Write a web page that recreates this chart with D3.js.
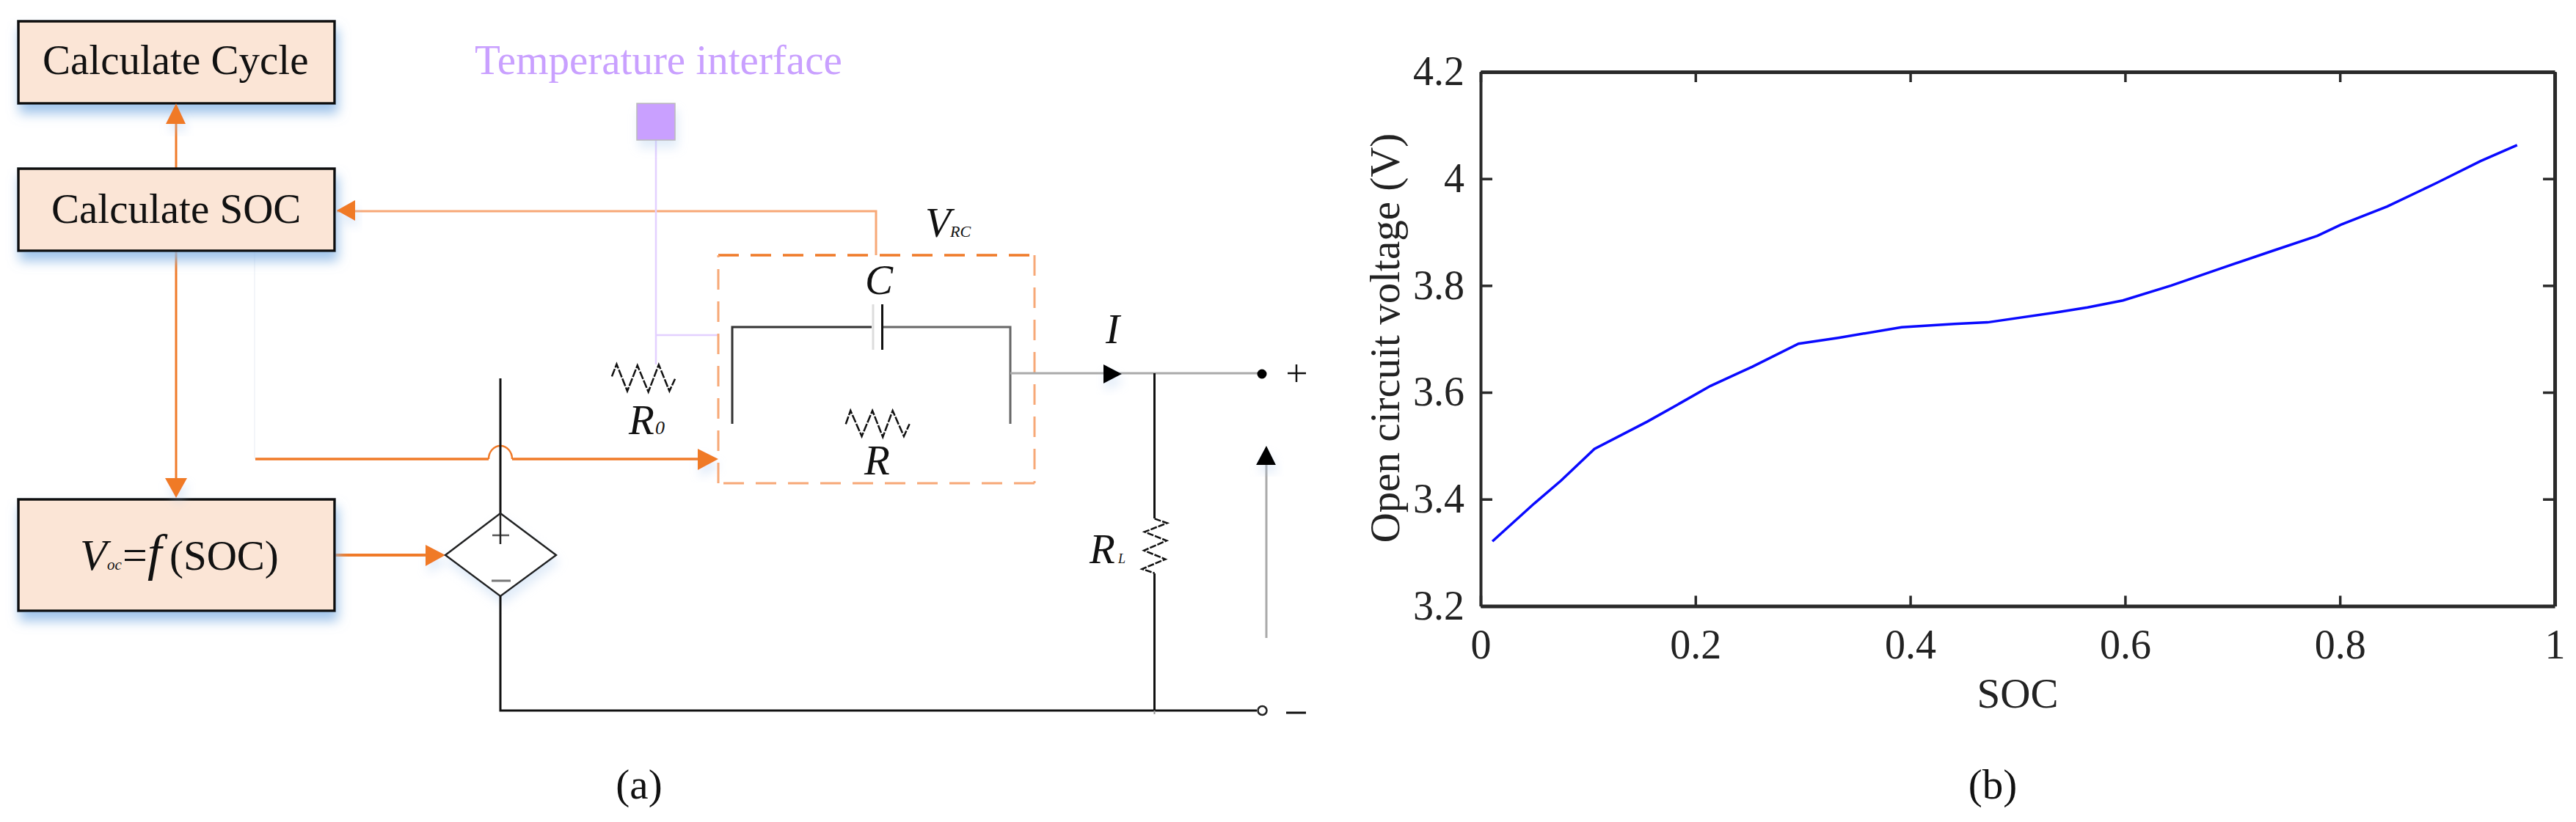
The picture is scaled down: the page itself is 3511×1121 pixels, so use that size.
<!DOCTYPE html>
<html>
<head>
<meta charset="utf-8">
<script src="https://cdn.jsdelivr.net/npm/d3@7/dist/d3.min.js"></script>
<style>
  html, body { margin: 0; padding: 0; background: #fff; }
  svg { display: block; }
  text { font-family: "Liberation Serif", serif; fill: #111; }
</style>
</head>
<body>
<div id="chart"></div>
<script>
// panel (b) curve
const socValues = [0.011, 0.050, 0.075, 0.106, 0.155, 0.186, 0.214, 0.253, 0.296, 0.333, 0.392, 0.441, 0.472, 0.534, 0.565, 0.598, 0.643, 0.689, 0.736, 0.779, 0.801, 0.844, 0.890, 0.931, 0.965];
const ocvValues = [3.321, 3.392, 3.435, 3.494, 3.545, 3.580, 3.612, 3.648, 3.691, 3.702, 3.722, 3.728, 3.731, 3.749, 3.759, 3.772, 3.800, 3.832, 3.864, 3.893, 3.914, 3.948, 3.992, 4.033, 4.063];
const xTicks = [0, 0.2, 0.4, 0.6, 0.8, 1];
const xTickLabels = ['0', '0.2', '0.4', '0.6', '0.8', '1'];
const yTicks = [3.2, 3.4, 3.6, 3.8, 4, 4.2];
const yTickLabels = ['3.2', '3.4', '3.6', '3.8', '4', '4.2'];
const boxLabels = ['Calculate Cycle', 'Calculate SOC'];

const width = 3511, height = 1121;
const orange = '#f07a28', paleOrange = '#f7a877', purple = '#c9a0ff', palePurple = '#e3d0ff';
const svg = d3.select('#chart').append('svg').attr('width', width).attr('height', height);

const defs = svg.append('defs');
defs.append('filter').attr('id', 'boxShadow').attr('x', '-10%').attr('y', '-10%').attr('width', '125%').attr('height', '140%')
  .append('feDropShadow').attr('dx', 3).attr('dy', 12).attr('stdDeviation', 8).attr('flood-color', '#8fb9e6').attr('flood-opacity', 0.85);
defs.append('filter').attr('id', 'softShadow').attr('x', '-40%').attr('y', '-40%').attr('width', '180%').attr('height', '200%')
  .append('feDropShadow').attr('dx', 3).attr('dy', 10).attr('stdDeviation', 7).attr('flood-color', '#a9c8ec').attr('flood-opacity', 0.35);

const left = svg.append('g');

function line(pts, color, w, dash) {
  const p = left.append('path').attr('d', d3.line()(pts)).attr('fill', 'none').attr('stroke', color).attr('stroke-width', w);
  if (dash) p.attr('stroke-dasharray', dash);
  return p;
}
function head(pts, color) {
  left.append('path').attr('d', d3.line()(pts) + 'Z').attr('fill', color).attr('filter', 'url(#softShadow)');
}
function label(x, y, str, size, italic, color) {
  return left.append('text').attr('x', x).attr('y', y).attr('font-size', size)
    .attr('font-style', italic ? 'italic' : 'normal').style('fill', color || '#111').text(str);
}
function box(y0, y1) {
  left.append('rect').attr('x', 25).attr('y', y0).attr('width', 431).attr('height', y1 - y0)
    .attr('fill', '#fbe5d6').attr('stroke', '#111').attr('stroke-width', 3.5).attr('filter', 'url(#boxShadow)');
}

// feedback wires under the boxes
line([[347, 342], [347, 626]], '#f3f5f9', 2);
line([[240, 230], [240, 160]], orange, 3);
line([[240, 342], [240, 660]], orange, 3);
line([[459, 288], [1194, 288], [1194, 348]], paleOrange, 3);
line([[348, 626], [666, 626]], orange, 3.5);
left.append('path').attr('d', 'M666,626 A16,18 0 0 1 698,626').attr('fill', 'none').attr('stroke', orange).attr('stroke-width', 2.5);
line([[698, 626], [955, 626]], orange, 3.5);
line([[456, 757], [590, 757]], orange, 4);

box(29, 141);
box(230, 342);
box(681, 833);
label(58, 101, boxLabels[0], 57);
label(70, 304, boxLabels[1], 57);
label(109, 777, 'V', 60, true);
label(146, 777, 'oc', 21, true);
label(167, 777, '=', 60);
label(201, 777, 'f', 70, true);
label(231, 777, '(SOC)', 57);

head([[240, 141], [226, 169], [253, 169]], orange);
head([[459, 287], [484, 273], [484, 301]], orange);
head([[240, 679], [225, 652], [255, 652]], orange);
head([[607, 757], [580, 743], [580, 772]], orange);
head([[979, 626], [951, 612], [951, 641]], orange);

// temperature interface
label(647, 101, 'Temperature interface', 57, false, purple);
line([[894, 191], [894, 497]], palePurple, 2.5);
line([[894, 457], [979, 457]], palePurple, 2.5);
left.append('rect').attr('x', 868).attr('y', 141).attr('width', 52).attr('height', 50).attr('fill', purple)
  .attr('stroke', '#bbb').attr('stroke-width', 1.5).attr('filter', 'url(#softShadow)');

// dashed RC block
line([[979, 348], [1410, 348]], orange, 3.5, '28 16');
line([[1410, 348], [1410, 659]], paleOrange, 3, '28 16');
line([[1410, 659], [979, 659]], paleOrange, 3, '28 16');
line([[979, 659], [979, 348]], paleOrange, 3, '28 16');
label(1261, 323, 'V', 57, true);
label(1295, 323, 'RC', 22, true);

// RC branch
line([[998, 578], [998, 446], [1188, 446]], '#333', 3);
line([[1203, 446], [1377, 446], [1377, 578]], '#666', 3);
line([[1190, 415], [1190, 477]], '#ddd', 3);
line([[1202.5, 415], [1202.5, 477]], '#111', 3);
label(1179, 401, 'C', 57, true);

const zig = [[1183, 835], [1200, 780], [1240, 885], [1278, 780], [1315, 888], [1350, 780], [1390, 885], [1410, 835]];
line(zig.map(d => [700 + d[0] / 2.613, 300 + d[1] / 3]), '#111', 2.5, '11 2');
label(1178, 647, 'R', 57, true);
const zig0 = [[350, 640], [367, 590], [405, 700], [441, 595], [480, 703], [517, 592], [555, 700], [575, 650]];
line(zig0.map(d => [700 + d[0] / 2.613, 300 + d[1] / 3]), '#111', 2.5, '11 2');
label(857, 592, 'R', 57, true);
label(893, 592, '0', 26, true);

// output side
line([[1377, 509], [1715, 509]], '#aaa', 3);
head([[1529, 510], [1504, 497], [1504, 523]], '#000');
label(1507, 468, 'I', 57, true);
left.append('circle').attr('cx', 1720).attr('cy', 510).attr('r', 6.5).attr('fill', '#000');
line([[1767, 497], [1767, 521]], '#111', 2.5);
line([[1755, 509], [1780, 509]], '#111', 2.5);
line([[1726, 870], [1726, 634]], '#aaa', 3);
head([[1726, 608], [1712, 634], [1739, 634]], '#000');

// load resistor
line([[1573.5, 509], [1573.5, 707]], '#111', 3);
const zigL = [[371, 322], [422, 340], [330, 376], [420, 412], [328, 452], [415, 488], [320, 528], [371, 545]];
line(zigL.map(d => [1450 + d[0] / 3, 600 + d[1] / 3]), '#111', 2.5, '9 2');
line([[1573.5, 782], [1573.5, 969]], '#111', 3);
label(1485, 768, 'R', 57, true);
label(1524, 768, 'L', 18, true);

// dependent source
line([[682, 516], [682, 700]], '#111', 3);
left.append('path').attr('d', d3.line()([[682, 700], [758, 757], [682, 813], [607, 757]]) + 'Z')
  .attr('fill', '#fff').attr('stroke', '#222').attr('stroke-width', 2.5).attr('filter', 'url(#softShadow)');
line([[671, 730], [694, 730]], '#555', 2.5);
line([[682, 700], [682, 742]], '#222', 2.5);
line([[670, 792], [696, 792]], '#777', 3);
line([[682, 813], [682, 969], [1713, 969]], '#111', 3);
line([[1573.5, 969], [1573.5, 974]], '#999', 2);
left.append('circle').attr('cx', 1720.5).attr('cy', 969).attr('r', 6).attr('fill', '#fff').attr('stroke', '#222').attr('stroke-width', 2.5);
line([[1753, 972], [1780, 972]], '#111', 3);

label(871, 1089, '(a)', 57).attr('text-anchor', 'middle');

// panel (b)
const x = d3.scaleLinear().domain([0, 1]).range([2018, 3482]);
const y = d3.scaleLinear().domain([3.2, 4.2]).range([826.4, 98]);
const right = svg.append('g');
const fmtX = (d, i) => xTickLabels[i];
const fmtY = (d, i) => yTickLabels[i];

function styleAxis(g, w) {
  g.select('.domain').attr('stroke', '#2a2a2a').attr('stroke-width', w);
  g.selectAll('.tick line').attr('stroke', '#2a2a2a').attr('stroke-width', 3.5);
  g.selectAll('text').attr('font-size', 56).style('fill', '#222').style('font-family', '"Liberation Serif", serif');
}
const gx = right.append('g').attr('transform', `translate(0,${y(3.2)})`)
  .call(d3.axisBottom(x).tickValues(xTicks).tickFormat(fmtX).tickSizeInner(-14).tickSizeOuter(0).tickPadding(32));
styleAxis(gx, 5);
const gxTop = right.append('g').attr('transform', `translate(0,${y(4.2)})`)
  .call(d3.axisTop(x).tickValues(xTicks).tickFormat('').tickSizeInner(-14).tickSizeOuter(0));
styleAxis(gxTop, 5);
const gy = right.append('g').attr('transform', `translate(${x(0)},0)`)
  .call(d3.axisLeft(y).tickValues(yTicks).tickFormat(fmtY).tickSizeInner(-16).tickSizeOuter(0).tickPadding(22));
styleAxis(gy, 4);
const gyRight = right.append('g').attr('transform', `translate(${x(1)},0)`)
  .call(d3.axisRight(y).tickValues(yTicks).tickFormat('').tickSizeInner(-16).tickSizeOuter(0));
styleAxis(gyRight, 5);

right.append('path').datum(socValues.map((s, i) => [s, ocvValues[i]]))
  .attr('fill', 'none').attr('stroke', '#0a0aff').attr('stroke-width', 3.5)
  .attr('d', d3.line().x(d => x(d[0])).y(d => y(d[1])));

right.append('text').attr('x', 2750).attr('y', 965).attr('text-anchor', 'middle').attr('font-size', 57).style('fill', '#222').text('SOC');
right.append('text').attr('transform', 'translate(1907,461) rotate(-90)').attr('text-anchor', 'middle').attr('font-size', 57).style('fill', '#222').text('Open circuit voltage (V)');
right.append('text').attr('x', 2716).attr('y', 1089).attr('text-anchor', 'middle').attr('font-size', 57).text('(b)');
</script>
</body>
</html>
